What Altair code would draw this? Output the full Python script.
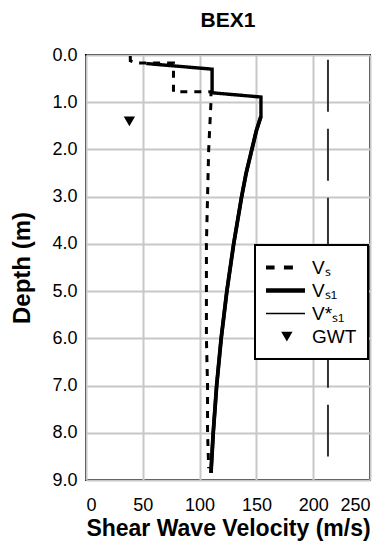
import altair as alt
import pandas as pd

# ---------------- data ----------------
chart_title = "BEX1"
x_title = "Shear Wave Velocity (m/s)"
y_title = "Depth (m)"
series_names = ["Vₛ", "Vₛ₁", "V*ₛ₁", "GWT"]

vs_velocity = [39, 39, 44, 77, 77, 110, 110, 108, 107, 106, 106, 106, 107, 107, 108]
vs_depth = [0.02, 0.12, 0.17, 0.17, 0.78, 0.78, 1.0, 2.0, 3.0, 4.0, 5.0, 6.0, 7.0, 8.0, 8.75]

vs1_velocity = [53, 111, 111, 154, 154, 150, 146, 141, 137, 130, 124, 119, 115, 112, 110]
vs1_depth = [0.18, 0.3, 0.8, 0.89, 1.3, 1.6, 2.0, 2.5, 3.0, 4.0, 5.0, 6.0, 7.0, 8.0, 8.85]

vs1star_velocity = [154, 150, 146, 141, 137, 130, 124, 119, 115, 112, 110]
vs1star_depth = [1.3, 1.6, 2.0, 2.5, 3.0, 4.0, 5.0, 6.0, 7.0, 8.0, 8.85]

gwt_velocity = [37]
gwt_depth = [1.4]

ref_velocity = [213]
ref_depth_top = [0.1]
ref_depth_bottom = [8.5]

x_ticks = [0, 50, 100, 150, 200, 250]
y_ticks = [0, 1, 2, 3, 4, 5, 6, 7, 8, 9]

# ---------------- tables ----------------
rows = []
for name, vel, dep in [(series_names[0], vs_velocity, vs_depth),
                       (series_names[1], vs1_velocity, vs1_depth),
                       (series_names[2], vs1star_velocity, vs1star_depth)]:
    for i, (v, d) in enumerate(zip(vel, dep)):
        rows.append({"s": name, "v": v, "d": d, "o": i})
lines_df = pd.DataFrame(rows)
gwt_df = pd.DataFrame({"s": [series_names[3]], "v": gwt_velocity, "d": gwt_depth})
ref_df = pd.DataFrame({"v": ref_velocity, "d": ref_depth_top, "d2": ref_depth_bottom})

FONT = "Liberation Sans"
SYM = 1521  # symbol box side sqrt(1521) = 39 px

# legend glyphs, drawn as filled paths inside the [-1, 1] symbol box
GLYPH_DASHED = "M-1,-0.1L-0.56,-0.1L-0.56,0.1L-1,0.1Z M-0.08,-0.1L0.38,-0.1L0.38,0.1L-0.08,0.1Z"
GLYPH_THICK = "M-1,-0.11L1,-0.11L1,0.11L-1,0.11Z"
GLYPH_THIN = "M-1,-0.035L1,-0.035L1,0.035L-1,0.035Z"
GLYPH_TRI = "M-0.22,-0.24L0.36,-0.24L0.07,0.26Z"

x_scale = alt.Scale(domain=[0, 250], nice=False, zero=False)
y_scale = alt.Scale(domain=[0, 9], reverse=True, nice=False, zero=False)

x_axis = alt.Axis(values=x_ticks, title=x_title, format="d", ticks=False, tickSize=0,
                  domain=False, labelPadding=16, titlePadding=3)
y_axis = alt.Axis(values=y_ticks, title=y_title, format=".1f", ticks=False, tickSize=0,
                  domain=False, labelPadding=9, titlePadding=17)

dash_scale = alt.Scale(domain=series_names[:3], range=[[7, 7], [1, 0], [1, 0]])
width_scale = alt.Scale(domain=series_names[:3], range=[3, 3.8, 1.5])
shape_scale = alt.Scale(domain=series_names,
                        range=[GLYPH_DASHED, GLYPH_THICK, GLYPH_THIN, GLYPH_TRI])

legend = alt.Legend(
    title=None, orient="none", legendX=169, legendY=190, padding=11,
    strokeColor="black", fillColor="white", clipHeight=23, rowPadding=0,
    labelOffset=7, labelFont=FONT, labelFontSize=19, labelColor="black",
    symbolSize=SYM, symbolFillColor="black", symbolStrokeColor="black",
    symbolStrokeWidth=0, symbolOpacity=1,
)

lines = alt.Chart(lines_df).mark_line(color="black", strokeCap="butt", strokeJoin="miter").encode(
    x=alt.X("v:Q", scale=x_scale, axis=x_axis),
    y=alt.Y("d:Q", scale=y_scale, axis=y_axis),
    order="o:Q",
    strokeDash=alt.StrokeDash("s:N", scale=dash_scale, legend=None),
    strokeWidth=alt.StrokeWidth("s:N", scale=width_scale, legend=None),
)

gwt = alt.Chart(gwt_df).mark_point(filled=True, color="black", opacity=1,
                                   strokeWidth=0, size=SYM).encode(
    x=alt.X("v:Q", scale=x_scale, axis=x_axis),
    y=alt.Y("d:Q", scale=y_scale, axis=y_axis),
    shape=alt.Shape("s:N", scale=shape_scale, legend=legend),
)

ref = alt.Chart(ref_df).mark_rule(color="#333333", strokeWidth=2, strokeDash=[52, 17]).encode(
    x=alt.X("v:Q", scale=x_scale, axis=x_axis),
    y=alt.Y("d:Q", scale=y_scale, axis=y_axis),
    y2="d2:Q",
)

chart = alt.layer(ref, lines, gwt).properties(
    width=284,
    height=425,
    title=alt.TitleParams(chart_title, fontSize=21, font=FONT, fontWeight="bold",
                          anchor="middle", offset=15, color="black", frame="group"),
    autosize=alt.AutoSizeParams(type="none"),
    padding={"left": 78, "top": 47, "right": 5, "bottom": 64},
).configure_view(
    stroke="black", strokeWidth=2
).configure_axis(
    labelFont=FONT, labelFontSize=18, labelColor="black",
    titleFont=FONT, titleFontSize=23, titleFontWeight="bold", titleColor="black",
    gridColor="#c8c8c8", gridWidth=2, gridOpacity=1,
).configure_axisY(
    titleFontSize=24
).configure_legend(
    strokeWidth=2
)

chart.save("out.html", embed_options={"renderer": "svg", "actions": False})
